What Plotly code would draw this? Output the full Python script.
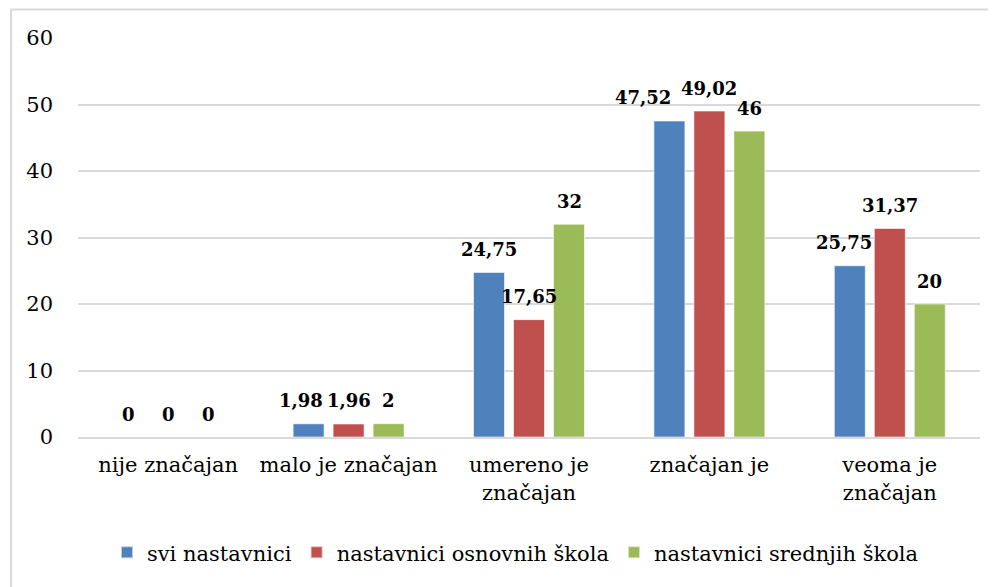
import plotly.graph_objects as go

categories = ["nije značajan", "malo je značajan", "umereno je<br>značajan", "značajan je", "veoma je<br>značajan"]
series_names = ["svi nastavnici", "nastavnici osnovnih škola", "nastavnici srednjih škola"]
svi = [0, 1.98, 24.75, 47.52, 25.75]
osnovne = [0, 1.96, 17.65, 49.02, 31.37]
srednje = [0, 2, 32, 46, 20]
colors = ["#4F81BD", "#C0504D", "#9BBB59"]
y_ticks = [0, 10, 20, 30, 40, 50, 60]

FONT = "DejaVu Serif"

def fmt(v):
    s = f"{v:.2f}".rstrip("0").rstrip(".")
    return s.replace(".", ",")

fig = go.Figure()
all_series = [svi, osnovne, srednje]
for name, vals, col in zip(series_names, all_series, colors):
    fig.add_trace(go.Bar(
        x=categories, y=vals, name=name,
        marker=dict(color=col, line=dict(color="rgba(255,255,255,0.6)", width=1)),
    ))

# data labels as annotations anchored at data coords (small manual nudges as in the reference)
offsets = [-40, 0, 40]
nudges = {(1, 0): -8, (3, 0): -26, (4, 0): -6}
for si, (vals, dx) in enumerate(zip(all_series, offsets)):
    for ci, (c, v) in enumerate(zip(categories, vals)):
        fig.add_annotation(
            x=c, y=v, xref="x", yref="y", text=f"<b>{fmt(v)}</b>",
            showarrow=False, xshift=dx + nudges.get((ci, si), 0), yshift=23, yanchor="middle",
            font=dict(family=FONT, size=18, color="black"),
        )

# outer chart frame
fig.add_shape(type="rect", xref="paper", yref="paper",
              x0=-0.0743, x1=1.03, y0=-0.45, y1=1.0714,
              line=dict(color="#D9D9D9", width=2), fillcolor="rgba(0,0,0,0)", layer="below")

fig.update_layout(
    width=988, height=579,
    margin=dict(l=70, r=16, t=30, b=150),
    paper_bgcolor="white", plot_bgcolor="white",
    barmode="group", bargap=0.335, bargroupgap=0.225,
    showlegend=True,
    legend=dict(orientation="h", x=0.485, xanchor="center", y=-0.29, yanchor="middle",
                font=dict(family=FONT, size=21, color="black"), itemsizing="constant"),
    xaxis=dict(showgrid=False, showline=True, linecolor="#D9D9D9", linewidth=2,
               ticks="", tickfont=dict(family=FONT, size=21, color="black"), ticklabelstandoff=8,
               tickangle=0),
    yaxis=dict(range=[0, 60], tickvals=y_ticks, showgrid=True, gridcolor="#D9D9D9", gridwidth=2,
               zeroline=False, showline=False, ticks="",
               tickfont=dict(family=FONT, size=21, color="black"), ticklabelstandoff=24),
)

fig.write_html("out.html")
